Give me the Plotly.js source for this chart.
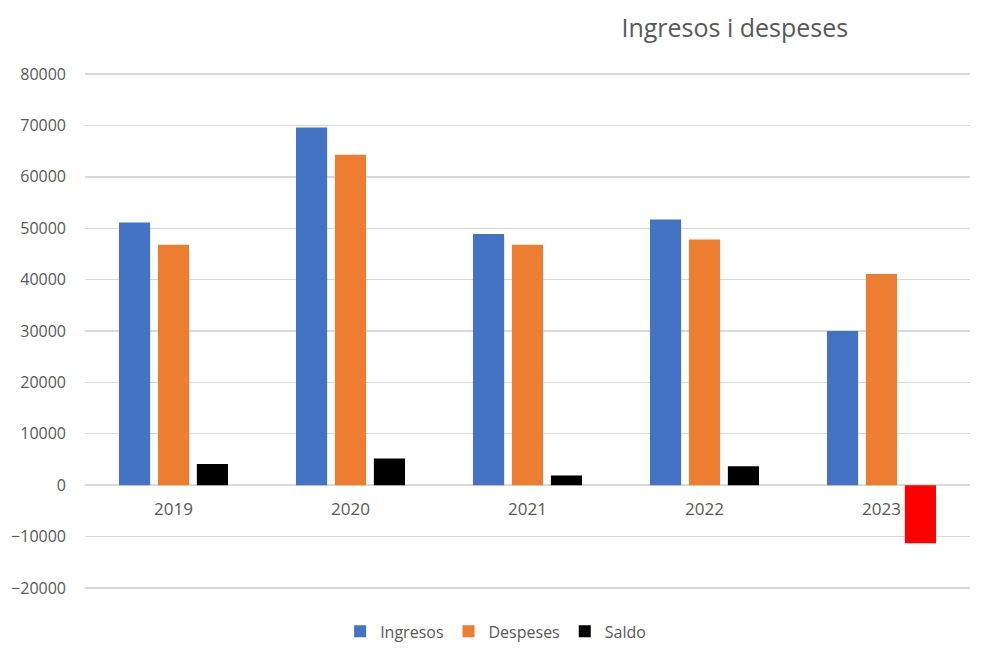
<!DOCTYPE html>
<html>
<head>
<meta charset="utf-8">
<script src="https://cdn.plot.ly/plotly-3.0.1.min.js"></script>
<style>html,body{margin:0;padding:0;background:#fff;}#chart{width:993px;height:661px;}</style>
</head>
<body>
<div id="chart"></div>
<script>
const years = ['2019', '2020', '2021', '2022', '2023'];
const ingresos = [51100, 69600, 48900, 51700, 30000];
const despeses = [46800, 64300, 46800, 47800, 41100];
const saldo = [4100, 5200, 1900, 3700, -11300];
const saldoColors = saldo.map(v => v < 0 ? '#FF0000' : '#000000');

const yMin = -20400, yMax = 80400;
const font = {family: 'Open Sans, Noto Sans, sans-serif', color: '#595959'};

const traces = [
  {type: 'bar', name: 'Ingresos', x: years, y: ingresos, marker: {color: '#4472C4'}},
  {type: 'bar', name: 'Despeses', x: years, y: despeses, marker: {color: '#ED7D31'}},
  {type: 'bar', name: 'Saldo', x: years, y: saldo, marker: {color: saldoColors}}
];

const layout = {
  width: 993, height: 661,
  margin: {l: 85, r: 23, t: 72, b: 71},
  paper_bgcolor: '#fff', plot_bgcolor: '#fff',
  font: Object.assign({size: 16}, font),
  title: {text: 'Ingresos i despeses', x: 0.74, xref: 'container', xanchor: 'center', y: 0.957, yref: 'container', yanchor: 'middle', font: Object.assign({}, font, {size: 25})},
  barmode: 'group', bargap: 0.34, bargroupgap: 0.2,
  xaxis: {
    type: 'category', anchor: 'free', position: (0 - yMin) / (yMax - yMin),
    showgrid: false, showline: false, zeroline: false, ticks: '',
    tickfont: Object.assign({size: 17}, font), ticklabelstandoff: 12
  },
  yaxis: {
    range: [yMin, yMax], tick0: 0, dtick: 10000, tickformat: 'd',
    showgrid: true, gridcolor: '#d9d9d9', gridwidth: 1.4,
    zeroline: true, zerolinecolor: '#d9d9d9', zerolinewidth: 1.4,
    showline: false, ticks: '', ticklabelstandoff: 18,
    tickfont: Object.assign({size: 16}, font)
  },
  showlegend: true,
  legend: {orientation: 'h', x: 0.464, xanchor: 'center', y: -0.08, yanchor: 'middle', font: Object.assign({size: 16}, font), traceorder: 'normal'}
};

Plotly.newPlot('chart', traces, layout, {displayModeBar: false, staticPlot: true});
</script>
</body>
</html>
